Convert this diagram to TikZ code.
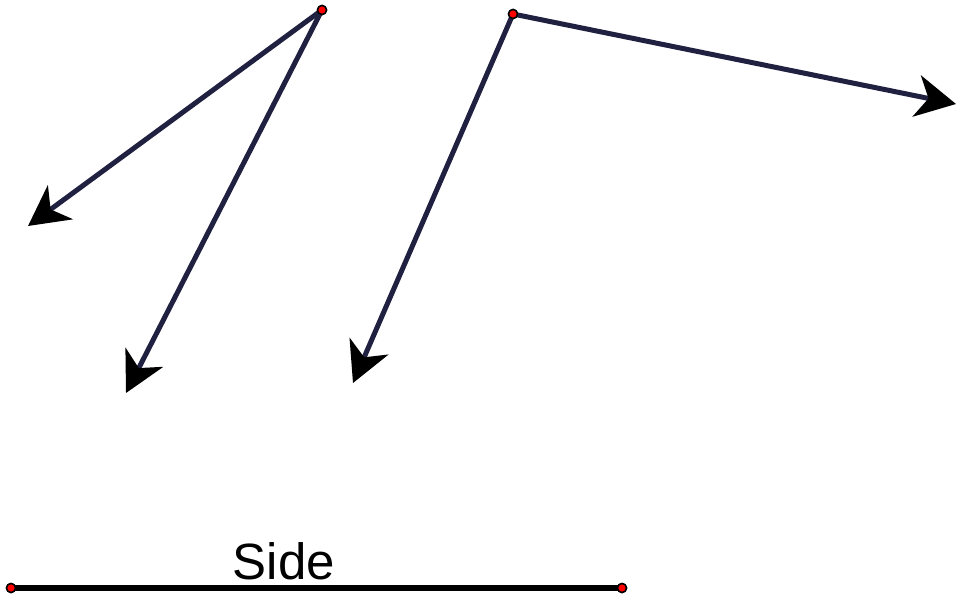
\documentclass[tikz,border=0pt]{standalone}
\usepackage{fontspec}
\setmainfont{Liberation Sans}
\usetikzlibrary{arrows.meta, positioning}

\begin{document}
\begin{tikzpicture}[
    x=1pt, y=-1pt,
    vec/.style={draw={rgb,255:red,32;green,32;blue,64}, line width=5pt,
                -{Stealth[length=40pt, width=42pt, inset=12pt, fill=black, color=black]}},
    dot/.style={circle, draw=black, fill=red, line width=1.5pt,
                minimum size=9pt, inner sep=0pt},
    side/.style={draw=black, line width=5.5pt},
]
\useasboundingbox (0,0) rectangle (958,600);

% Base points
\node[dot] (pa) at (322,10) {};
\node[dot] (pb) at (513,14) {};

% Arrow ends
\coordinate (ea1) at (28,226);
\coordinate (ea2) at (126,393);
\coordinate (eb1) at (353,383);
\coordinate (eb2) at (956,104);

% Vectors
\draw[vec] (pa.center) -- (ea1);
\draw[vec] (pa.center) -- (ea2);
\draw[vec] (pb.center) -- (eb1);
\draw[vec] (pb.center) -- (eb2);
\node[dot] at (pa) {};
\node[dot] at (pb) {};

% Side segment
\node[dot] (sl) at (11,588) {};
\node[dot] (sr) at (622,588) {};
\draw[side] (sl.center) -- (sr.center);
\node[dot] at (sl) {};
\node[dot] at (sr) {};
\node[font=\fontsize{51}{55}\selectfont, anchor=base] (lbl) at (284,579) {Side};

\end{tikzpicture}
\end{document}
